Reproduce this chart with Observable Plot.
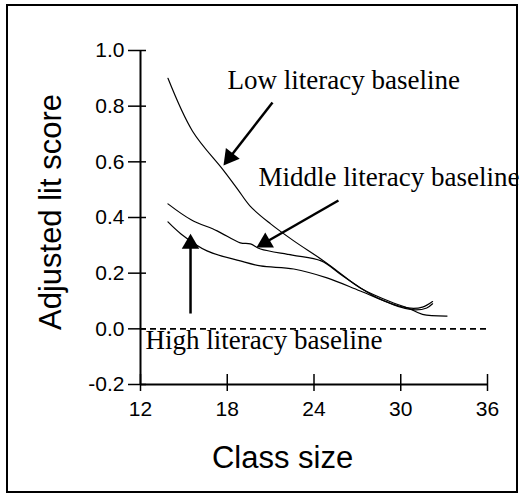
<!DOCTYPE html>
<html><head><meta charset="utf-8">
<script src="https://cdn.jsdelivr.net/npm/d3@7"></script>
<script src="https://cdn.jsdelivr.net/npm/@observablehq/plot@0.6"></script>
<style>
html,body{margin:0;padding:0;background:#fff;}
#wrap{position:relative;width:525px;height:494px;overflow:hidden;}
#wrap svg{position:absolute;left:0;top:0;}
#box{position:absolute;left:6px;top:4px;width:512px;height:489px;box-sizing:border-box;border:2px solid #000;pointer-events:none;}
</style></head><body><div id="wrap"><div id="box"></div></div>
<script>
// Curves
const lowX  = [13.9, 15.6, 17.7, 18.7, 19.6, 21.0, 22.6, 24.5, 25.6, 27.2, 29.5, 30.5, 31.5, 33.2];
const lowY  = [0.90, 0.71, 0.572, 0.503, 0.44, 0.377, 0.316, 0.25, 0.208, 0.147, 0.093, 0.075, 0.052, 0.046];
const midX  = [13.9, 15.5, 17.3, 18.9, 19.6, 20.3, 22.5, 24.5, 26.0, 28.4, 30.5, 31.5, 32.2];
const midY  = [0.449, 0.392, 0.352, 0.309, 0.305, 0.287, 0.265, 0.244, 0.19, 0.111, 0.075, 0.078, 0.098];
const highX = [13.9, 14.8, 16.6, 18.9, 20.3, 22.6, 24.9, 27.2, 30.0, 31.0, 31.8, 32.2];
const highY = [0.384, 0.341, 0.28, 0.244, 0.226, 0.215, 0.183, 0.136, 0.078, 0.068, 0.075, 0.09];

// Ticks
const xTicks = [12, 18, 24, 30, 36];
const yTicks = [-0.2, 0.0, 0.2, 0.4, 0.6, 0.8, 1.0];

// Annotations
const annText = ["Low literacy baseline", "Middle literacy baseline", "High literacy baseline"];
const annX = [18.02, 20.16, 12.35];
const annY = [0.894, 0.546, -0.040];
const arrowFromX = [21.13, 25.69, 15.46];
const arrowFromY = [0.813, 0.461, 0.055];
const arrowToX = [17.74, 20.02, 15.46];
const arrowToY = [0.587, 0.292, 0.342];

const xLabel = "Class size";
const yLabel = "Adjusted lit score";

const W = 525, H = 494, ML = 140, MR = 38, MT = 50, MB = 110;
const kx = (W - ML - MR) / 24, ky = (H - MT - MB) / 1.2;
const R = 6.5;
const tipOff = 2 * Math.sqrt(R * R * Math.PI / (3 * Math.sqrt(3)));

const toRows = (xs, ys) => xs.map((x, i) => ({x, y: ys[i]}));
const low = toRows(lowX, lowY), mid = toRows(midX, midY), high = toRows(highX, highY);
const ann = annText.map((t, i) => ({t, x: annX[i], y: annY[i]}));
const arrows = arrowFromX.map((fx, i) => {
  const fy = arrowFromY[i], tx = arrowToX[i], ty = arrowToY[i];
  const px = (tx - fx) * kx, py = -(ty - fy) * ky;
  const L = Math.hypot(px, py), ux = px / L, uy = py / L;
  return {fx, fy, tx, ty,
    cx: tx - ux * tipOff / kx, cy: ty + uy * tipOff / ky,
    angle: Math.atan2(ux, -uy) * 180 / Math.PI};
});

const sans = '"Liberation Sans", Arial, Helvetica, sans-serif';
const serif = '"Liberation Serif", "Times New Roman", serif';

const chart = Plot.plot({
  width: W, height: H,
  marginLeft: ML, marginRight: MR, marginTop: MT, marginBottom: MB,
  x: {domain: [12, 36]},
  y: {domain: [-0.2, 1.0]},
  style: {fontFamily: sans, fontSize: "21px", background: "transparent", color: "#000", overflow: "visible"},
  marks: [
    Plot.ruleY([0], {x1: 12, x2: 36, stroke: "#000", strokeWidth: 1.6, strokeDasharray: "6,4"}),
    Plot.line(low, {x: "x", y: "y", curve: "catmull-rom", stroke: "#000", strokeWidth: 1.2}),
    Plot.line(mid, {x: "x", y: "y", curve: "catmull-rom", stroke: "#000", strokeWidth: 1.2}),
    Plot.line(high, {x: "x", y: "y", curve: "catmull-rom", stroke: "#000", strokeWidth: 1.2}),
    Plot.link(arrows, {x1: "fx", y1: "fy", x2: "cx", y2: "cy", stroke: "#000", strokeWidth: 2.5}),
    Plot.dot(arrows, {x: "cx", y: "cy", symbol: "triangle", r: R, fill: "#000", stroke: "none", rotate: "angle"}),
    Plot.text(ann, {x: "x", y: "y", text: "t", textAnchor: "start", lineAnchor: "middle", fontFamily: serif, fontSize: 27, fill: "#000"}),
    Plot.ruleX([12], {y1: -0.2, y2: 1.0, stroke: "#000", strokeWidth: 2}),
    Plot.ruleY([-0.2], {x1: 12, x2: 36, stroke: "#000", strokeWidth: 2}),
    Plot.axisY(yTicks, {tickSize: 18, dx: 6, tickPadding: 4, tickFormat: d => d.toFixed(1), strokeWidth: 1.5, label: null, fontSize: 21}),
    Plot.axisX(xTicks, {tickSize: 17, dy: -10, tickPadding: 10, tickFormat: d => String(d), strokeWidth: 1.5, label: null, fontSize: 21}),
    Plot.text([yLabel], {text: d => d, frameAnchor: "left", textAnchor: "middle", rotate: -90, dx: -89, dy: -5.5, fontSize: 31, lineAnchor: "middle", fill: "#000"}),
    Plot.text([xLabel], {text: d => d, frameAnchor: "bottom", textAnchor: "middle", dx: -31.5, dy: 74, fontSize: 31, lineAnchor: "middle", fill: "#000"})
  ]
});
document.getElementById("wrap").prepend(chart);
</script>
</body></html>
